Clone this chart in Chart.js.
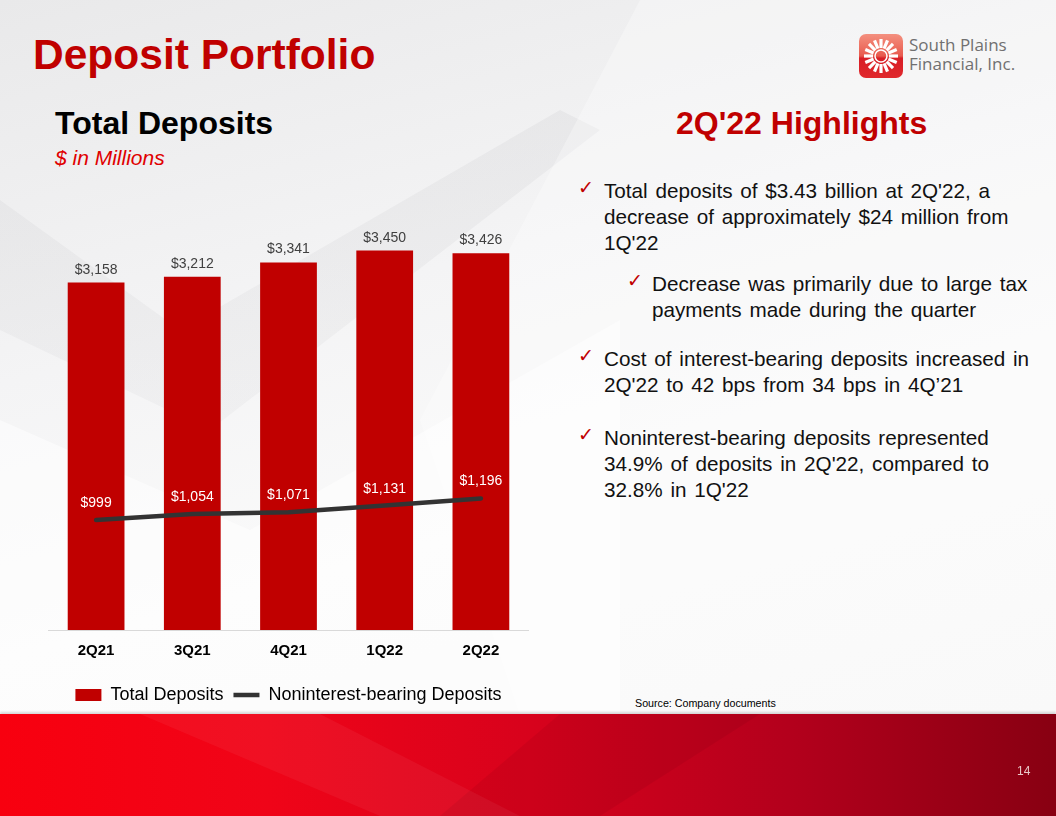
<!DOCTYPE html>
<html>
<head>
<meta charset="utf-8">
<script src="https://cdn.jsdelivr.net/npm/chart.js@4.4.1/dist/chart.umd.min.js"></script>
<style>
  html, body { margin: 0; padding: 0; }
  body {
    width: 1056px; height: 816px; position: relative; overflow: hidden;
    font-family: "Liberation Sans", Arial, sans-serif;
    background: linear-gradient(165deg, #e9e9ea 0%, #f4f4f5 35%, #fafafa 60%, #f6f6f6 100%);
  }
  .shape { position: absolute; left: 0; top: 0; width: 1056px; height: 716px; }
  .s1 { background: linear-gradient(180deg, rgba(200,200,203,0.25), rgba(220,220,222,0.1));
        clip-path: polygon(0 200px, 180px 330px, 560px 110px, 600px 130px, 210px 430px, 0 330px); }
  .s2 { background: rgba(255,255,255,0.5);
        clip-path: polygon(0 420px, 250px 530px, 620px 320px, 620px 716px, 0 716px); }
  .s3 { background: rgba(255,255,255,0.3);
        clip-path: polygon(640px 0, 1056px 0, 1056px 716px, 520px 716px, 420px 420px); }
  #band {
    position: absolute; left: 0; top: 714px; width: 1056px; height: 102px;
    background: linear-gradient(90deg, #f8000f 0%, #f00418 25%, #d8021c 50%, #b3001c 75%, #880012 100%);
    box-shadow: 0 -2px 2px rgba(150,150,150,0.35);
  }
  #band .f1 { position: absolute; inset: 0; background: rgba(255,255,255,0.05);
        clip-path: polygon(140px 0, 320px 0, 520px 102px, 380px 102px); }
  #band .f2 { position: absolute; inset: 0; background: rgba(0,0,0,0.05);
        clip-path: polygon(560px 0, 760px 0, 600px 102px, 440px 102px); }
  #pagenum { position: absolute; left: 1017px; top: 764px; font-size: 12px; color: #e8c8c8; }
  #title { position: absolute; left: 33px; top: 31px; font-size: 42.5px; font-weight: bold; color: #c00000; }
  #sub { position: absolute; left: 55px; top: 105px; font-size: 32px; font-weight: bold; color: #000; }
  #unit { position: absolute; left: 55px; top: 146px; font-size: 21px; font-style: italic; color: #e00000; }
  #hl { position: absolute; left: 676px; top: 105px; font-size: 32px; font-weight: bold; color: #c00000; }
  .txt { position: absolute; font-size: 20.7px; line-height: 26px; color: #111; word-spacing: 2px; white-space: nowrap; }
  .chk { position: absolute; font-family: "DejaVu Sans", sans-serif; font-size: 19px; font-weight: bold; color: #c00000; }
  #src { position: absolute; left: 635px; top: 697px; font-size: 10.7px; color: #000; }
  #logo { position: absolute; left: 859px; top: 34px; }
  #logotxt { position: absolute; left: 909px; top: 35px; font-family: "Open Sans", sans-serif;
             font-size: 17px; line-height: 19px; color: #707070; }
  #wrap { position: absolute; left: 48px; top: 180px; width: 481px; height: 534px; }
</style>
</head>
<body>
<div class="shape s1"></div>
<div class="shape s2"></div>
<div class="shape s3"></div>

<div id="title">Deposit Portfolio</div>
<div id="sub">Total Deposits</div>
<div id="unit">$ in Millions</div>
<div id="hl">2Q'22 Highlights</div>

<svg id="logo" width="44" height="44" viewBox="0 0 44 44">
  <defs>
    <linearGradient id="lg" x1="0" y1="0" x2="0" y2="1">
      <stop offset="0" stop-color="#f4907f"/>
      <stop offset="0.5" stop-color="#e85a4e"/>
      <stop offset="0.55" stop-color="#d81e26"/>
      <stop offset="1" stop-color="#e0282c"/>
    </linearGradient>
  </defs>
  <rect x="0" y="0" width="44" height="44" rx="7" fill="url(#lg)"/>
  <g id="spokes" stroke="#fff" stroke-width="3.2"></g>
  <circle cx="22" cy="22" r="6" fill="none" stroke="#fff" stroke-width="1.5"/>
</svg>
<div id="logotxt">South Plains<br>Financial, Inc.</div>

<div class="chk" style="left:578px; top:176px;">✓</div>
<div class="txt" style="left:604px; top:178px;">Total deposits of $3.43 billion at 2Q'22, a<br>decrease of approximately $24 million from<br>1Q'22</div>
<div class="chk" style="left:627px; top:269px;">✓</div>
<div class="txt" style="left:652px; top:271px;">Decrease was primarily due to large tax<br>payments made during the quarter</div>
<div class="chk" style="left:578px; top:344px;">✓</div>
<div class="txt" style="left:604px; top:346px;">Cost of interest-bearing deposits increased in<br>2Q'22 to 42 bps from 34 bps in 4Q’21</div>
<div class="chk" style="left:578px; top:423px;">✓</div>
<div class="txt" style="left:604px; top:425px;">Noninterest-bearing deposits represented<br>34.9% of deposits in 2Q'22, compared to<br>32.8% in 1Q'22</div>

<div id="src">Source: Company documents</div>

<div id="wrap"><canvas id="depChart"></canvas></div>

<div id="band"><div class="f1"></div><div class="f2"></div></div>
<div id="pagenum">14</div>

<script>
// logo spokes (decoration)
const sp = document.getElementById('spokes');
for (let i = 0; i < 16; i++) {
    const a = i * Math.PI / 8;
    const l = document.createElementNS('http://www.w3.org/2000/svg', 'line');
    l.setAttribute('x1', 22 + Math.cos(a) * 8);  l.setAttribute('y1', 22 + Math.sin(a) * 8);
    l.setAttribute('x2', 22 + Math.cos(a) * 17); l.setAttribute('y2', 22 + Math.sin(a) * 17);
    sp.appendChild(l);
}

const quarters = ['2Q21', '3Q21', '4Q21', '1Q22', '2Q22'];
const totalDeposits = [3158, 3212, 3341, 3450, 3426];
const nonInterestDeposits = [999, 1054, 1071, 1131, 1196];

const fmt = v => '$' + v.toLocaleString('en-US');

// draws the value labels above bars and line points
const valueLabels = {
    id: 'valueLabels',
    afterDatasetsDraw(chart) {
        const ctx = chart.ctx;
        ctx.save();
        ctx.font = '14px "Liberation Sans", Arial, sans-serif';
        ctx.textAlign = 'center';
        ctx.textBaseline = 'alphabetic';
        chart.data.datasets.forEach((ds, i) => {
            const meta = chart.getDatasetMeta(i);
            meta.data.forEach((el, j) => {
                if (ds.type === 'line') {
                    ctx.fillStyle = '#ffffff';
                    ctx.fillText(fmt(ds.data[j]), el.x, el.y - 13);
                } else {
                    ctx.fillStyle = '#404040';
                    ctx.fillText(fmt(ds.data[j]), el.x, el.y - 9);
                }
            });
        });
        ctx.restore();
    }
};

try {
    new Chart(document.getElementById('depChart'), {
        data: {
            labels: quarters,
            datasets: [{
                type: 'bar',
                label: 'Total Deposits',
                data: totalDeposits,
                backgroundColor: '#c00000',
                pointStyle: 'rect',
                categoryPercentage: 1,
                barPercentage: 0.59,
                order: 2
            }, {
                type: 'line',
                label: 'Noninterest-bearing Deposits',
                data: nonInterestDeposits,
                borderColor: '#333333',
                backgroundColor: '#333333',
                borderWidth: 4.5,
                borderCapStyle: 'round',
                pointRadius: 0,
                pointStyle: 'line',
                tension: 0,
                order: 1
            }]
        },
        options: {
            responsive: true,
            maintainAspectRatio: false,
            animation: false,
            layout: { padding: { top: 10, left: 0, right: 0, bottom: 0 } },
            plugins: {
                legend: {
                    position: 'bottom',
                    labels: {
                        usePointStyle: true,
                        pointStyleWidth: 26,
                        boxHeight: 12,
                        padding: 10,
                        color: '#000',
                        font: { family: '"Liberation Sans", Arial, sans-serif', size: 18 },
                        sort: (a, b) => a.datasetIndex - b.datasetIndex
                    }
                },
                tooltip: { enabled: false }
            },
            scales: {
                x: {
                    grid: { display: false },
                    border: { color: '#d9d9d9', width: 1 },
                    ticks: { color: '#000', font: { family: '"Liberation Sans", Arial, sans-serif', size: 15, weight: 'bold' }, padding: 4 },
                    afterFit: (scale) => { scale.height += 12; }
                },
                y: { display: false, min: 0, max: 4000 }
            }
        },
        plugins: [valueLabels]
    });
} catch (e) { console.error('Crash in depChart', e); }
</script>
</body>
</html>
